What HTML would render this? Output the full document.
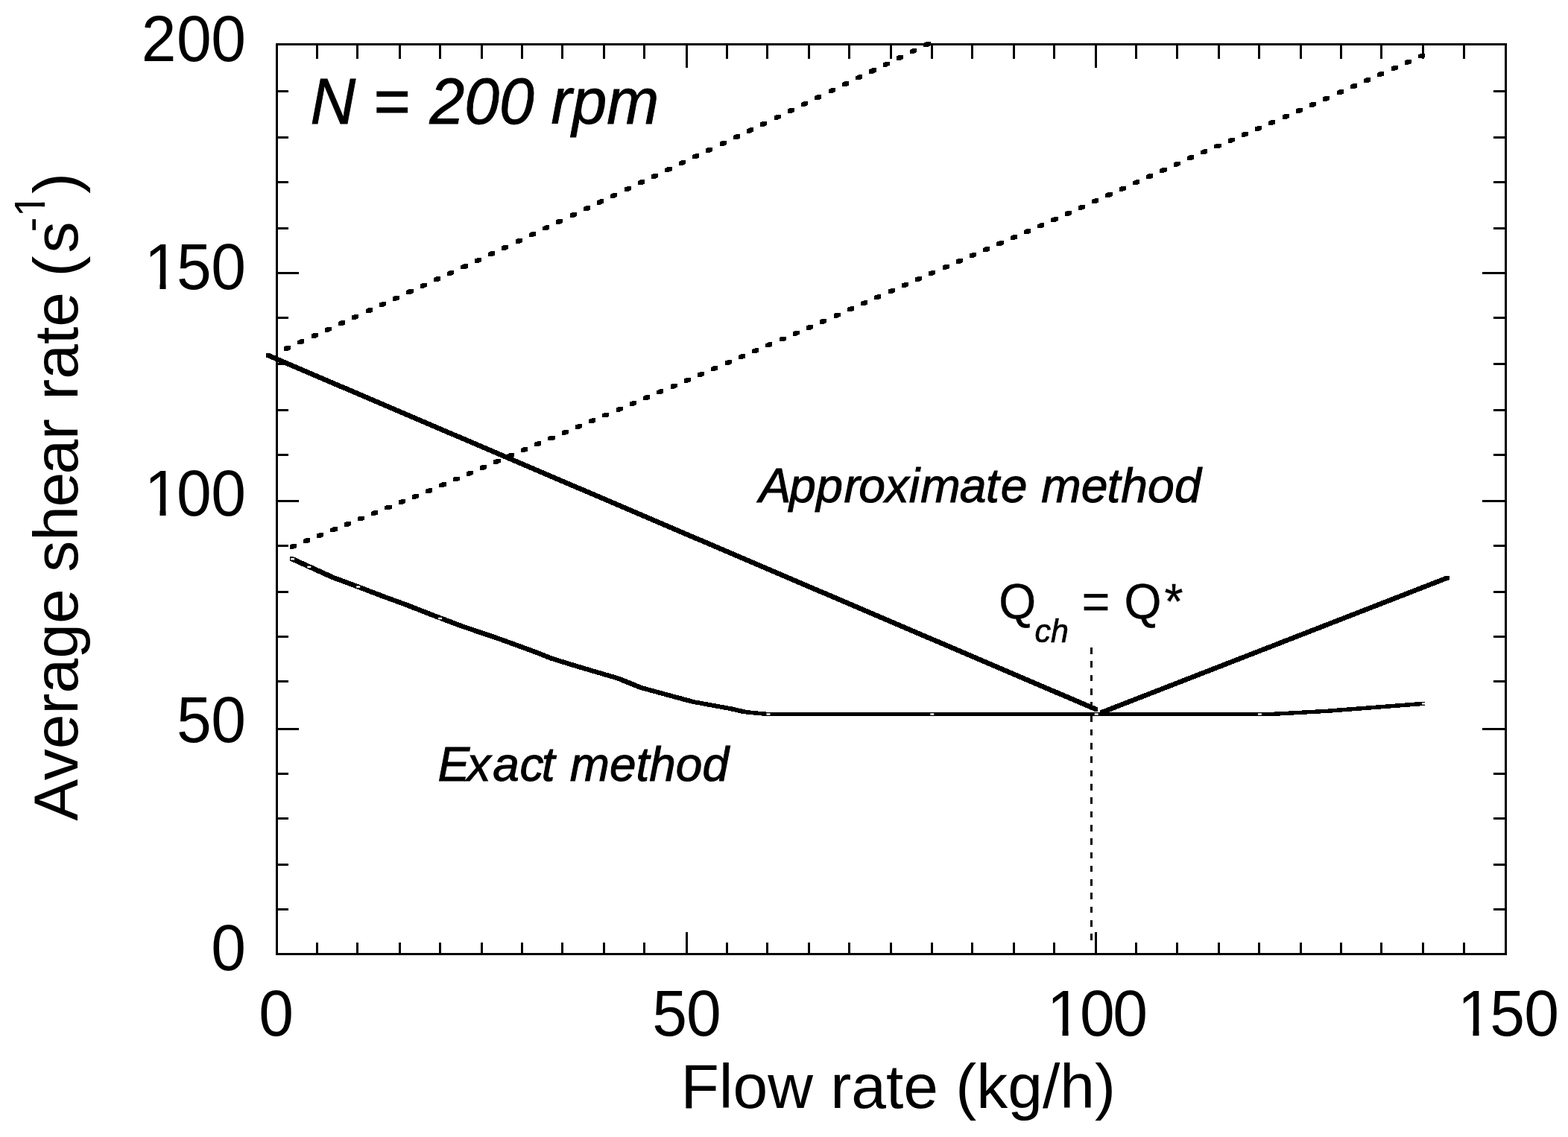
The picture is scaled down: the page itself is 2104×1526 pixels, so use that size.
<!DOCTYPE html>
<html lang="en"><head><meta charset="utf-8"><title>Average shear rate vs flow rate</title>
<style>html,body{margin:0;padding:0;background:#fff;}body{width:2104px;height:1526px;overflow:hidden;}svg{display:block;}text{font-family:"Liberation Sans",sans-serif;fill:#000;}.it{font-style:italic;}</style></head><body>
<svg width="2104" height="1526" viewBox="0 0 2104 1526">
<rect x="0" y="0" width="2104" height="1526" fill="#fff"/>
<g fill="#000" shape-rendering="crispEdges">
<rect x="370" y="58" width="1652" height="3"/>
<rect x="370" y="1279" width="1652" height="3"/>
<rect x="370" y="58" width="3" height="1224"/>
<rect x="2019" y="58" width="3" height="1224"/>
<rect x="424" y="61" width="3" height="18"/>
<rect x="424" y="1265" width="3" height="14"/>
<rect x="478" y="61" width="3" height="18"/>
<rect x="478" y="1265" width="3" height="14"/>
<rect x="535" y="61" width="3" height="18"/>
<rect x="535" y="1265" width="3" height="14"/>
<rect x="589" y="61" width="3" height="18"/>
<rect x="589" y="1265" width="3" height="14"/>
<rect x="645" y="61" width="3" height="18"/>
<rect x="645" y="1265" width="3" height="14"/>
<rect x="699" y="61" width="3" height="18"/>
<rect x="699" y="1265" width="3" height="14"/>
<rect x="753" y="61" width="3" height="18"/>
<rect x="753" y="1265" width="3" height="14"/>
<rect x="809" y="61" width="3" height="18"/>
<rect x="809" y="1265" width="3" height="14"/>
<rect x="863" y="61" width="3" height="18"/>
<rect x="863" y="1265" width="3" height="14"/>
<rect x="920" y="61" width="3" height="30"/>
<rect x="920" y="1251" width="3" height="28"/>
<rect x="974" y="61" width="3" height="18"/>
<rect x="974" y="1265" width="3" height="14"/>
<rect x="1028" y="61" width="3" height="18"/>
<rect x="1028" y="1265" width="3" height="14"/>
<rect x="1084" y="61" width="3" height="18"/>
<rect x="1084" y="1265" width="3" height="14"/>
<rect x="1138" y="61" width="3" height="18"/>
<rect x="1138" y="1265" width="3" height="14"/>
<rect x="1194" y="61" width="3" height="18"/>
<rect x="1194" y="1265" width="3" height="14"/>
<rect x="1249" y="61" width="3" height="18"/>
<rect x="1249" y="1265" width="3" height="14"/>
<rect x="1303" y="61" width="3" height="18"/>
<rect x="1303" y="1265" width="3" height="14"/>
<rect x="1359" y="61" width="3" height="18"/>
<rect x="1359" y="1265" width="3" height="14"/>
<rect x="1413" y="61" width="3" height="18"/>
<rect x="1413" y="1265" width="3" height="14"/>
<rect x="1469" y="61" width="3" height="30"/>
<rect x="1469" y="1251" width="3" height="28"/>
<rect x="1523" y="61" width="3" height="18"/>
<rect x="1523" y="1265" width="3" height="14"/>
<rect x="1578" y="61" width="3" height="18"/>
<rect x="1578" y="1265" width="3" height="14"/>
<rect x="1634" y="61" width="3" height="18"/>
<rect x="1634" y="1265" width="3" height="14"/>
<rect x="1688" y="61" width="3" height="18"/>
<rect x="1688" y="1265" width="3" height="14"/>
<rect x="1744" y="61" width="3" height="18"/>
<rect x="1744" y="1265" width="3" height="14"/>
<rect x="1798" y="61" width="3" height="18"/>
<rect x="1798" y="1265" width="3" height="14"/>
<rect x="1852" y="61" width="3" height="18"/>
<rect x="1852" y="1265" width="3" height="14"/>
<rect x="1908" y="61" width="3" height="18"/>
<rect x="1908" y="1265" width="3" height="14"/>
<rect x="1963" y="61" width="3" height="18"/>
<rect x="1963" y="1265" width="3" height="14"/>
<rect x="373" y="121" width="14" height="3"/>
<rect x="2004" y="121" width="15" height="3"/>
<rect x="373" y="183" width="14" height="3"/>
<rect x="2004" y="183" width="15" height="3"/>
<rect x="373" y="243" width="14" height="3"/>
<rect x="2004" y="243" width="15" height="3"/>
<rect x="373" y="305" width="14" height="3"/>
<rect x="2004" y="305" width="15" height="3"/>
<rect x="373" y="365" width="28" height="3"/>
<rect x="1989" y="365" width="30" height="3"/>
<rect x="373" y="425" width="14" height="3"/>
<rect x="2004" y="425" width="15" height="3"/>
<rect x="373" y="487" width="14" height="3"/>
<rect x="2004" y="487" width="15" height="3"/>
<rect x="373" y="549" width="14" height="3"/>
<rect x="2004" y="549" width="15" height="3"/>
<rect x="373" y="609" width="14" height="3"/>
<rect x="2004" y="609" width="15" height="3"/>
<rect x="373" y="671" width="28" height="3"/>
<rect x="1989" y="671" width="30" height="3"/>
<rect x="373" y="731" width="14" height="3"/>
<rect x="2004" y="731" width="15" height="3"/>
<rect x="373" y="793" width="14" height="3"/>
<rect x="2004" y="793" width="15" height="3"/>
<rect x="373" y="853" width="14" height="3"/>
<rect x="2004" y="853" width="15" height="3"/>
<rect x="373" y="913" width="14" height="3"/>
<rect x="2004" y="913" width="15" height="3"/>
<rect x="373" y="977" width="28" height="3"/>
<rect x="1989" y="977" width="30" height="3"/>
<rect x="373" y="1037" width="14" height="3"/>
<rect x="2004" y="1037" width="15" height="3"/>
<rect x="373" y="1097" width="14" height="3"/>
<rect x="2004" y="1097" width="15" height="3"/>
<rect x="373" y="1159" width="14" height="3"/>
<rect x="2004" y="1159" width="15" height="3"/>
<rect x="373" y="1219" width="14" height="3"/>
<rect x="2004" y="1219" width="15" height="3"/>
</g>
<g fill="#000" stroke="none" shape-rendering="crispEdges">
<path d="M381.05 465.6 384.95 463.8 390.15 463.8 390.15 469 386.25 470.8 381.05 470.8ZM399.31 457.19 403.21 455.39 408.41 455.39 408.41 460.59 404.51 462.39 399.31 462.39ZM417.58 448.78 421.48 446.98 426.68 446.98 426.68 452.18 422.78 453.98 417.58 453.98ZM435.84 440.37 439.74 438.57 444.94 438.57 444.94 443.77 441.04 445.57 435.84 445.57ZM454.11 431.96 458.01 430.16 463.21 430.16 463.21 435.36 459.31 437.16 454.11 437.16ZM472.37 423.55 476.27 421.75 481.47 421.75 481.47 426.95 477.57 428.75 472.37 428.75ZM490.63 415.14 494.53 413.34 499.73 413.34 499.73 418.54 495.83 420.34 490.63 420.34ZM508.9 406.73 512.8 404.93 518 404.93 518 410.13 514.1 411.93 508.9 411.93ZM527.16 398.31 531.06 396.52 536.26 396.52 536.26 401.72 532.36 403.51 527.16 403.51ZM545.43 389.9 549.33 388.11 554.53 388.11 554.53 393.31 550.63 395.1 545.43 395.1ZM563.69 381.49 567.59 379.7 572.79 379.7 572.79 384.9 568.89 386.69 563.69 386.69ZM581.95 373.08 585.85 371.29 591.05 371.29 591.05 376.49 587.15 378.28 581.95 378.28ZM600.22 364.67 604.12 362.88 609.32 362.88 609.32 368.08 605.42 369.87 600.22 369.87ZM618.48 356.26 622.38 354.47 627.58 354.47 627.58 359.67 623.68 361.46 618.48 361.46ZM636.75 347.85 640.65 346.06 645.85 346.06 645.85 351.26 641.95 353.05 636.75 353.05ZM655.01 339.18 658.91 337.31 664.11 337.31 664.11 342.51 660.21 344.38 655.01 344.38ZM673.27 330.45 677.17 328.58 682.37 328.58 682.37 333.78 678.47 335.65 673.27 335.65ZM691.54 321.72 695.44 319.85 700.64 319.85 700.64 325.05 696.74 326.92 691.54 326.92ZM709.8 312.99 713.7 311.13 718.9 311.13 718.9 316.33 715 318.19 709.8 318.19ZM728.07 304.26 731.97 302.4 737.17 302.4 737.17 307.6 733.27 309.46 728.07 309.46ZM746.33 295.53 750.23 293.67 755.43 293.67 755.43 298.87 751.53 300.73 746.33 300.73ZM764.59 286.8 768.49 284.94 773.69 284.94 773.69 290.14 769.79 292 764.59 292ZM782.86 278.07 786.76 276.21 791.96 276.21 791.96 281.41 788.06 283.27 782.86 283.27ZM801.12 269.34 805.02 267.48 810.22 267.48 810.22 272.68 806.32 274.54 801.12 274.54ZM819.39 260.61 823.29 258.75 828.49 258.75 828.49 263.95 824.59 265.81 819.39 265.81ZM837.65 251.88 841.55 250.02 846.75 250.02 846.75 255.22 842.85 257.08 837.65 257.08ZM855.91 243.15 859.81 241.29 865.01 241.29 865.01 246.49 861.11 248.35 855.91 248.35ZM874.18 234.42 878.08 232.56 883.28 232.56 883.28 237.76 879.38 239.62 874.18 239.62ZM892.44 225.69 896.34 223.83 901.54 223.83 901.54 229.03 897.64 230.89 892.44 230.89ZM910.71 216.97 914.61 215.1 919.81 215.1 919.81 220.3 915.91 222.17 910.71 222.17ZM928.97 208.24 932.87 206.37 938.07 206.37 938.07 211.57 934.17 213.44 928.97 213.44ZM947.23 199.51 951.13 197.64 956.33 197.64 956.33 202.84 952.43 204.71 947.23 204.71ZM965.5 190.78 969.4 188.91 974.6 188.91 974.6 194.11 970.7 195.98 965.5 195.98ZM983.76 182.05 987.66 180.18 992.86 180.18 992.86 185.38 988.96 187.25 983.76 187.25ZM1002.03 173.33 1005.93 171.43 1011.13 171.43 1011.13 176.63 1007.23 178.53 1002.03 178.53ZM1020.29 164.44 1024.19 162.55 1029.39 162.55 1029.39 167.75 1025.49 169.64 1020.29 169.64ZM1038.55 155.56 1042.45 153.66 1047.65 153.66 1047.65 158.86 1043.75 160.76 1038.55 160.76ZM1056.82 146.68 1060.72 144.78 1065.92 144.78 1065.92 149.98 1062.02 151.88 1056.82 151.88ZM1075.08 137.8 1078.98 135.9 1084.18 135.9 1084.18 141.1 1080.28 143 1075.08 143ZM1093.35 128.91 1097.25 127.02 1102.45 127.02 1102.45 132.22 1098.55 134.11 1093.35 134.11ZM1111.61 120.03 1115.51 118.14 1120.71 118.14 1120.71 123.34 1116.81 125.23 1111.61 125.23ZM1129.87 111.15 1133.77 109.25 1138.97 109.25 1138.97 114.45 1135.07 116.35 1129.87 116.35ZM1148.14 102.26 1152.04 100.37 1157.24 100.37 1157.24 105.57 1153.34 107.46 1148.14 107.46ZM1166.4 93.38 1170.3 91.48 1175.5 91.48 1175.5 96.68 1171.6 98.58 1166.4 98.58ZM1184.67 84.49 1188.57 82.59 1193.77 82.59 1193.77 87.79 1189.87 89.69 1184.67 89.69ZM1202.93 75.6 1206.83 73.71 1212.03 73.71 1212.03 78.91 1208.13 80.8 1202.93 80.8ZM1221.19 66.72 1225.09 64.82 1230.29 64.82 1230.29 70.02 1226.39 71.92 1221.19 71.92ZM1239.46 57.83 1243.36 55.93 1248.56 55.93 1248.56 61.13 1244.66 63.03 1239.46 63.03Z"/>
<path d="M388.75 731.37 392.65 729.78 397.85 729.78 397.85 734.98 393.95 736.57 388.75 736.57ZM407 723.92 410.89 722.33 416.1 722.33 416.1 727.53 412.2 729.12 407 729.12ZM425.24 716.47 429.14 714.88 434.34 714.88 434.34 720.08 430.44 721.67 425.24 721.67ZM443.49 709.02 447.38 707.42 452.59 707.42 452.59 712.62 448.69 714.22 443.49 714.22ZM461.73 701.57 465.63 699.97 470.83 699.97 470.83 705.17 466.93 706.77 461.73 706.77ZM479.98 694.11 483.88 692.52 489.08 692.52 489.08 697.72 485.18 699.31 479.98 699.31ZM498.22 686.66 502.12 685.07 507.32 685.07 507.32 690.27 503.42 691.86 498.22 691.86ZM516.46 679.21 520.37 677.62 525.57 677.62 525.57 682.82 521.66 684.41 516.46 684.41ZM534.71 671.76 538.61 670.17 543.81 670.17 543.81 675.37 539.91 676.96 534.71 676.96ZM552.95 664.31 556.86 662.72 562.06 662.72 562.06 667.92 558.15 669.51 552.95 669.51ZM571.2 656.86 575.1 655.27 580.3 655.27 580.3 660.47 576.4 662.06 571.2 662.06ZM589.44 649.08 593.35 647.4 598.55 647.4 598.55 652.6 594.64 654.28 589.44 654.28ZM607.69 641.19 611.59 639.5 616.79 639.5 616.79 644.7 612.89 646.39 607.69 646.39ZM625.93 633.3 629.84 631.61 635.04 631.61 635.04 636.81 631.13 638.5 625.93 638.5ZM644.18 625.41 648.08 623.72 653.28 623.72 653.28 628.92 649.38 630.61 644.18 630.61ZM662.42 617.51 666.33 615.83 671.53 615.83 671.53 621.03 667.62 622.71 662.42 622.71ZM680.67 609.62 684.57 607.93 689.77 607.93 689.77 613.13 685.87 614.82 680.67 614.82ZM698.91 601.83 702.82 600.17 708.02 600.17 708.02 605.37 704.12 607.03 698.91 607.03ZM717.16 594.06 721.06 592.4 726.26 592.4 726.26 597.6 722.36 599.26 717.16 599.26ZM735.4 586.28 739.31 584.62 744.51 584.62 744.51 589.82 740.61 591.48 735.4 591.48ZM753.65 578.51 757.55 576.85 762.75 576.85 762.75 582.05 758.85 583.71 753.65 583.71ZM771.89 570.74 775.8 569.07 781 569.07 781 574.27 777.1 575.94 771.89 575.94ZM790.14 562.96 794.04 561.3 799.24 561.3 799.24 566.5 795.34 568.16 790.14 568.16ZM808.38 555.19 812.29 553.53 817.49 553.53 817.49 558.73 813.59 560.39 808.38 560.39ZM826.63 547.41 830.53 545.75 835.73 545.75 835.73 550.95 831.83 552.61 826.63 552.61ZM844.88 539.64 848.78 537.98 853.98 537.98 853.98 543.18 850.08 544.84 844.88 544.84ZM863.12 531.86 867.02 530.2 872.22 530.2 872.22 535.4 868.32 537.06 863.12 537.06ZM881.37 524.09 885.27 522.43 890.47 522.43 890.47 527.63 886.57 529.29 881.37 529.29ZM899.61 516.31 903.51 514.65 908.71 514.65 908.71 519.85 904.81 521.51 899.61 521.51ZM917.86 508.45 921.76 506.77 926.96 506.77 926.96 511.97 923.06 513.65 917.86 513.65ZM936.1 500.56 940 498.88 945.2 498.88 945.2 504.08 941.3 505.76 936.1 505.76ZM954.35 492.68 958.25 490.99 963.45 490.99 963.45 496.19 959.55 497.88 954.35 497.88ZM972.59 484.79 976.49 483.1 981.69 483.1 981.69 488.3 977.79 489.99 972.59 489.99ZM990.84 476.9 994.74 475.22 999.94 475.22 999.94 480.42 996.04 482.1 990.84 482.1ZM1009.08 469.02 1012.98 467.33 1018.18 467.33 1018.18 472.53 1014.28 474.22 1009.08 474.22ZM1027.33 461.13 1031.23 459.44 1036.42 459.44 1036.42 464.64 1032.52 466.33 1027.33 466.33ZM1045.57 453.24 1049.47 451.56 1054.67 451.56 1054.67 456.76 1050.77 458.44 1045.57 458.44ZM1063.81 445.35 1067.71 443.67 1072.91 443.67 1072.91 448.87 1069.01 450.55 1063.81 450.55ZM1082.06 437.47 1085.96 435.78 1091.16 435.78 1091.16 440.98 1087.26 442.67 1082.06 442.67ZM1100.3 429.43 1104.2 427.69 1109.4 427.69 1109.4 432.89 1105.5 434.63 1100.3 434.63ZM1118.55 421.32 1122.45 419.58 1127.65 419.58 1127.65 424.78 1123.75 426.52 1118.55 426.52ZM1136.79 413.2 1140.69 411.47 1145.89 411.47 1145.89 416.67 1141.99 418.4 1136.79 418.4ZM1155.04 405.09 1158.94 403.36 1164.14 403.36 1164.14 408.56 1160.24 410.29 1155.04 410.29ZM1173.28 396.98 1177.18 395.24 1182.38 395.24 1182.38 400.44 1178.48 402.18 1173.28 402.18ZM1191.53 388.87 1195.43 387.13 1200.63 387.13 1200.63 392.33 1196.73 394.07 1191.53 394.07ZM1209.77 380.75 1213.67 379.02 1218.87 379.02 1218.87 384.22 1214.97 385.95 1209.77 385.95ZM1228.02 372.64 1231.92 370.91 1237.12 370.91 1237.12 376.11 1233.22 377.84 1228.02 377.84ZM1246.26 364.53 1250.16 362.79 1255.36 362.79 1255.36 367.99 1251.46 369.73 1246.26 369.73ZM1264.51 356.57 1268.41 354.87 1273.61 354.87 1273.61 360.07 1269.71 361.77 1264.51 361.77ZM1282.75 348.64 1286.65 346.95 1291.85 346.95 1291.85 352.15 1287.95 353.84 1282.75 353.84ZM1301 340.72 1304.9 339.03 1310.1 339.03 1310.1 344.23 1306.2 345.92 1301 345.92ZM1319.24 332.8 1323.14 331.1 1328.34 331.1 1328.34 336.3 1324.44 338 1319.24 338ZM1337.49 324.87 1341.39 323.18 1346.59 323.18 1346.59 328.38 1342.69 330.07 1337.49 330.07ZM1355.73 316.95 1359.63 315.25 1364.83 315.25 1364.83 320.45 1360.93 322.15 1355.73 322.15ZM1373.98 309.02 1377.88 307.33 1383.08 307.33 1383.08 312.53 1379.18 314.22 1373.98 314.22ZM1392.22 301.1 1396.12 299.41 1401.32 299.41 1401.32 304.61 1397.42 306.3 1392.22 306.3ZM1410.47 292.95 1414.37 291.18 1419.57 291.18 1419.57 296.38 1415.67 298.15 1410.47 298.15ZM1428.71 284.66 1432.61 282.89 1437.81 282.89 1437.81 288.09 1433.91 289.86 1428.71 289.86ZM1446.96 276.38 1450.86 274.61 1456.06 274.61 1456.06 279.81 1452.16 281.58 1446.96 281.58ZM1465.2 268.09 1469.1 266.32 1474.3 266.32 1474.3 271.52 1470.4 273.29 1465.2 273.29ZM1483.45 259.81 1487.35 258.04 1492.55 258.04 1492.55 263.24 1488.65 265.01 1483.45 265.01ZM1501.69 251.52 1505.59 249.75 1510.79 249.75 1510.79 254.95 1506.89 256.72 1501.69 256.72ZM1519.94 243.24 1523.84 241.47 1529.04 241.47 1529.04 246.67 1525.14 248.44 1519.94 248.44ZM1538.18 234.95 1542.08 233.18 1547.28 233.18 1547.28 238.38 1543.38 240.15 1538.18 240.15ZM1556.43 226.67 1560.33 224.9 1565.53 224.9 1565.53 230.1 1561.63 231.87 1556.43 231.87ZM1574.67 218.38 1578.57 216.61 1583.77 216.61 1583.77 221.81 1579.87 223.58 1574.67 223.58ZM1592.92 210.1 1596.82 208.33 1602.02 208.33 1602.02 213.53 1598.12 215.3 1592.92 215.3ZM1611.16 202.14 1615.06 200.45 1620.26 200.45 1620.26 205.65 1616.36 207.34 1611.16 207.34ZM1629.41 194.24 1633.31 192.55 1638.51 192.55 1638.51 197.75 1634.61 199.44 1629.41 199.44ZM1647.65 186.34 1651.55 184.65 1656.75 184.65 1656.75 189.85 1652.85 191.54 1647.65 191.54ZM1665.9 178.44 1669.8 176.75 1675 176.75 1675 181.95 1671.1 183.64 1665.9 183.64ZM1684.14 170.54 1688.04 168.85 1693.24 168.85 1693.24 174.05 1689.34 175.74 1684.14 175.74ZM1702.39 162.64 1706.29 160.96 1711.49 160.96 1711.49 166.16 1707.59 167.84 1702.39 167.84ZM1720.63 154.75 1724.53 153.06 1729.73 153.06 1729.73 158.26 1725.83 159.95 1720.63 159.95ZM1738.88 146.65 1742.78 144.91 1747.98 144.91 1747.98 150.11 1744.08 151.85 1738.88 151.85ZM1757.12 138.5 1761.02 136.75 1766.22 136.75 1766.22 141.95 1762.32 143.7 1757.12 143.7ZM1775.37 130.34 1779.27 128.6 1784.47 128.6 1784.47 133.8 1780.57 135.54 1775.37 135.54ZM1793.61 122.19 1797.51 120.44 1802.71 120.44 1802.71 125.64 1798.81 127.39 1793.61 127.39ZM1811.86 114.03 1815.76 112.29 1820.96 112.29 1820.96 117.49 1817.06 119.23 1811.86 119.23ZM1830.1 105.88 1834 104.13 1839.2 104.13 1839.2 109.33 1835.3 111.08 1830.1 111.08ZM1848.35 97.72 1852.25 95.98 1857.45 95.98 1857.45 101.18 1853.55 102.92 1848.35 102.92ZM1866.59 89.57 1870.49 87.82 1875.69 87.82 1875.69 93.02 1871.79 94.77 1866.59 94.77ZM1884.84 81.41 1888.74 79.67 1893.94 79.67 1893.94 84.87 1890.04 86.61 1884.84 86.61ZM1903.08 73.26 1906.98 71.51 1912.18 71.51 1912.18 76.71 1908.28 78.46 1903.08 78.46Z"/>
<path d="M356.95 474.25 362.05 474.25 1473.15 949.45 1473.15 954.55 1468.05 954.55 356.95 479.35Z"/>
<path d="M1476.05 953.45 1939.95 772.85 1945.05 772.85 1945.05 777.95 1481.15 958.55 1476.05 958.55Z"/>
<path d="M388.95 747.35 394.05 747.35 449.05 772.35 449.05 777.45 443.95 777.45 388.95 752.45ZM443.95 772.35 449.05 772.35 482.55 784.75 482.55 789.85 477.45 789.85 443.95 777.45ZM477.45 784.75 482.55 784.75 515.85 797.55 515.85 802.65 510.75 802.65 477.45 789.85ZM510.75 797.55 515.85 797.55 549.05 809.65 549.05 814.75 543.95 814.75 510.75 802.65ZM543.95 809.65 549.05 809.65 582.35 822.75 582.35 827.85 577.25 827.85 543.95 814.75ZM577.25 822.75 582.35 822.75 622.55 837.95 622.55 843.05 617.45 843.05 577.25 827.85ZM617.45 837.95 622.55 837.95 672.45 854.85 672.45 859.95 667.35 859.95 617.45 843.05ZM667.35 854.85 672.45 854.85 722.35 873.05 722.35 878.15 717.25 878.15 667.35 859.95ZM717.25 873.05 722.35 873.05 742.35 881.05 742.35 886.15 737.25 886.15 717.25 878.15ZM737.25 881.05 742.35 881.05 772.25 890.35 772.25 895.45 767.15 895.45 737.25 886.15ZM767.15 890.35 772.25 890.35 832.55 908.15 832.55 913.25 827.45 913.25 767.15 895.45ZM827.45 908.15 832.55 908.15 862.45 920.35 862.45 925.45 857.35 925.45 827.45 913.25ZM857.35 920.35 862.45 920.35 932.35 939.35 932.35 944.45 927.25 944.45 857.35 925.45ZM927.25 939.35 932.35 939.35 982.25 948.45 982.25 953.55 977.15 953.55 927.25 944.45ZM977.15 948.45 982.25 948.45 1002.25 953.05 1002.25 958.15 997.15 958.15 977.15 953.55ZM997.15 953.05 1002.25 953.05 1032.55 955.95 1032.55 961.05 1027.45 961.05 997.15 958.15ZM1027.45 955.95 1032.55 955.95 1707.55 955.95 1707.55 961.05 1702.45 961.05 1027.45 961.05ZM1702.45 955.95 1777.45 951.85 1782.55 951.85 1782.55 956.95 1707.55 961.05 1702.45 961.05ZM1777.45 951.85 1797.45 950.25 1802.55 950.25 1802.55 955.35 1782.55 956.95 1777.45 956.95ZM1797.45 950.25 1907.05 941.85 1912.15 941.85 1912.15 946.95 1802.55 955.35 1797.45 955.35Z"/>
</g>
<path d="M1464.6 869 V1262" fill="none" stroke="#000" stroke-width="3" stroke-dasharray="8.6 9.7" shape-rendering="crispEdges"/>
<g fill="#fff">
<rect x="390.1" y="749.1" width="5" height="2.4"/>
<rect x="412.3" y="759.7" width="5" height="2.4"/>
<rect x="478.2" y="786.4" width="5" height="2.4"/>
<rect x="588.1" y="828.8" width="5" height="2.4"/>
<rect x="1028.5" y="957.3" width="5" height="2.4"/>
<rect x="1248.3" y="957.3" width="5" height="2.4"/>
<rect x="1468.7" y="957.3" width="5" height="2.4"/>
<rect x="1687.9" y="957.3" width="5" height="2.4"/>
<rect x="1908" y="943.2" width="5" height="2.4"/>
</g>
<text transform="translate(0 82.0) scale(1 1.04)" font-size="84"><tspan x="189.65" y="0">2</tspan><tspan x="236.95" y="0">0</tspan><tspan x="283.14" y="0">0</tspan></text>
<text transform="translate(0 387.9) scale(1 1.04)" font-size="84"><tspan x="193.66" y="0">1</tspan><tspan x="237.03" y="0">5</tspan><tspan x="283.14" y="0">0</tspan></text>
<g transform="translate(0 387.9) scale(1 1.04)" fill="#fff"><rect x="199.26" y="-6.8" width="15.22" height="7.6"/><rect x="222.52" y="-6.8" width="14.55" height="7.6"/></g>
<text transform="translate(0 692.0) scale(1 1.04)" font-size="84"><tspan x="193.66" y="0">1</tspan><tspan x="236.95" y="0">0</tspan><tspan x="283.14" y="0">0</tspan></text>
<g transform="translate(0 692.0) scale(1 1.04)" fill="#fff"><rect x="199.26" y="-6.8" width="15.22" height="7.6"/><rect x="222.52" y="-6.8" width="14.55" height="7.6"/></g>
<text transform="translate(0 995.8) scale(1 1.04)" font-size="84"><tspan x="237.03" y="0">5</tspan><tspan x="283.14" y="0">0</tspan></text>
<text transform="translate(0 1301.9) scale(1 1.04)" font-size="84"><tspan x="283.19" y="0">0</tspan></text>
<text transform="translate(0 1389.9) scale(1 1.04)" font-size="84"><tspan x="347.19" y="0">0</tspan></text>
<text transform="translate(0 1389.9) scale(1 1.04)" font-size="84"><tspan x="875.18" y="0">5</tspan><tspan x="921.1" y="0">0</tspan></text>
<text transform="translate(0 1389.9) scale(1 1.04)" font-size="84"><tspan x="1404.71" y="0">1</tspan><tspan x="1449.1" y="0">0</tspan><tspan x="1493.14" y="0">0</tspan></text>
<g transform="translate(0 1389.9) scale(1 1.04)" fill="#fff"><rect x="1410.31" y="-6.8" width="15.22" height="7.6"/><rect x="1433.56" y="-6.8" width="14.55" height="7.6"/></g>
<text transform="translate(0 1389.9) scale(1 1.04)" font-size="84"><tspan x="1955.66" y="0">1</tspan><tspan x="1999.17" y="0">5</tspan><tspan x="2045.2" y="0">0</tspan></text>
<g transform="translate(0 1389.9) scale(1 1.04)" fill="#fff"><rect x="1961.26" y="-6.8" width="15.22" height="7.6"/><rect x="1984.51" y="-6.8" width="14.55" height="7.6"/></g>
<text x="1205.3" y="1487" font-size="84" text-anchor="middle">Flow rate (kg/h)</text>
<text transform="translate(104.1 1101.7) rotate(-90)" font-size="84"><tspan x="0" y="0">Average </tspan><tspan x="333.9" y="0">sh</tspan><tspan x="421.1" y="0">e</tspan><tspan x="465.1" y="0">ar </tspan><tspan x="564.9" y="0">rate </tspan><tspan x="730.2" y="0">(</tspan><tspan x="762.3" y="0">s</tspan><tspan x="790.3" y="-42.7" font-size="60">-</tspan><tspan x="810.35" y="-44" font-size="57">1</tspan><tspan x="841.7" y="0">)</tspan></text>
<g transform="translate(104.1 1101.7) rotate(-90)" fill="#fff"><rect x="814.15" y="-49.8" width="10.28" height="6.4"/><rect x="829.97" y="-49.8" width="9.88" height="6.4"/></g>
<text transform="translate(0 166) scale(1 1.03)" font-size="84" class="it" stroke="#000" stroke-width="0.9"><tspan x="416.4" y="0">N = </tspan><tspan x="576.6" y="0">200 </tspan><tspan x="739.6" y="0">rpm</tspan></text>
<text x="1018.4 1059.01 1095.2 1132.4 1152.28 1187.48 1219.78 1235.33 1287.79 1323 1342.83 1379.53 1397.36 1450.83 1485.53 1504.36 1540.06 1576.06" y="674.3" font-size="64.2" class="it" stroke="#000" stroke-width="1">Approximate method</text>
<text x="587.5 626.41 661.25 697.38 726.73 747.08 764.83 818.05 853.58 871.33 906.86 942.41" y="1048.1" font-size="63.9" class="it" stroke="#000" stroke-width="1">Exact method</text>
<text transform="translate(0 829.7) scale(1 1.04)" font-size="64.2" stroke="#000" stroke-width="0.4"><tspan x="1340.3" y="0">Q</tspan><tspan x="1388.5" y="31.06" font-size="43" class="it" stroke="#000" stroke-width="0.7">ch</tspan><tspan x="1434.05" y="0"> = </tspan><tspan x="1508.6" y="0">Q</tspan><tspan x="1562.5" y="0">*</tspan></text>
</svg></body></html>
